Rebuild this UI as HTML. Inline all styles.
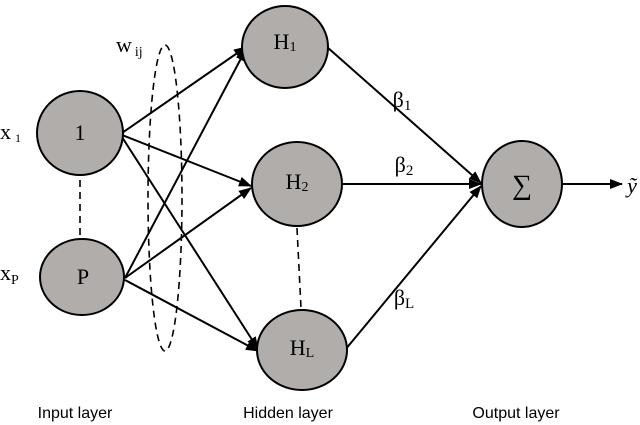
<!DOCTYPE html>
<html><head><style>body{margin:0;background:#fff}svg{display:block}</style></head><body>
<svg width="640" height="425" viewBox="0 0 640 425" xmlns="http://www.w3.org/2000/svg" font-family="Liberation Serif, serif">
<defs><marker id="a" markerWidth="13" markerHeight="10" refX="12" refY="5" orient="auto" markerUnits="userSpaceOnUse"><path d="M0,0 L13,5 L0,10 z" fill="#000"/></marker></defs>
<g stroke="#000" stroke-width="2" fill="none">
<line x1="122" y1="133" x2="246" y2="47" marker-end="url(#a)"/>
<line x1="122" y1="135" x2="251" y2="186" marker-end="url(#a)"/>
<line x1="122" y1="137" x2="258" y2="349" marker-end="url(#a)"/>
<line x1="125" y1="278" x2="246" y2="49" marker-end="url(#a)"/>
<line x1="125" y1="278" x2="251" y2="188" marker-end="url(#a)"/>
<line x1="125" y1="280" x2="258" y2="351" marker-end="url(#a)"/>
<line x1="327" y1="47" x2="481" y2="183" marker-end="url(#a)"/>
<line x1="343" y1="184" x2="481" y2="184" marker-end="url(#a)"/>
<line x1="345" y1="350" x2="481" y2="186" marker-end="url(#a)"/>
<line x1="562" y1="184" x2="622" y2="184" marker-end="url(#a)"/>
</g>
<g stroke="#000" stroke-width="1.6" fill="none" stroke-dasharray="7,5">
<ellipse cx="165" cy="198" rx="17" ry="153"/>
<line x1="80" y1="180" x2="80" y2="238"/>
<line x1="297" y1="228" x2="301" y2="308"/>
</g>
<g fill="#b0adab" stroke="#000" stroke-width="2">
<ellipse cx="80" cy="133" rx="43" ry="42"/>
<ellipse cx="82" cy="277" rx="42" ry="38"/>
<ellipse cx="285" cy="47" rx="43" ry="41"/>
<ellipse cx="297" cy="184" rx="45" ry="42"/>
<ellipse cx="302" cy="350" rx="45" ry="40"/>
<ellipse cx="522" cy="184" rx="40" ry="43"/>
</g>
<g font-size="22" fill="#000" text-anchor="middle">
<text x="80" y="140">1</text>
<text x="83" y="284">P</text>
<text x="285" y="49">H<tspan font-size="14" dy="2">1</tspan></text>
<text x="297" y="189">H<tspan font-size="14" dy="2">2</tspan></text>
<text x="302" y="355">H<tspan font-size="14" dy="2">L</tspan></text>
<text x="522" y="194" font-size="28">∑</text>
<text x="402" y="107">β<tspan font-size="15" dy="3">1</tspan></text>
<text x="404" y="172">β<tspan font-size="15" dy="3">2</tspan></text>
<text x="404" y="305">β<tspan font-size="15" dy="3">L</tspan></text>
<text x="632" y="193" font-style="italic">ỹ</text>
</g>
<g font-size="22" fill="#000">
<text x="0" y="139">x<tspan font-size="12" dx="4" dy="3">1</tspan></text>
<text x="0" y="280">x<tspan font-size="14" dy="4">P</tspan></text>
<text x="116" y="52">w<tspan font-size="14" dx="3" dy="4">ij</tspan></text>
</g>
<g font-family="Liberation Sans, sans-serif" font-size="16" fill="#000" text-anchor="middle">
<text x="75" y="418">Input layer</text>
<text x="288" y="418">Hidden layer</text>
<text x="516" y="418">Output layer</text>
</g>
</svg>
</body></html>
